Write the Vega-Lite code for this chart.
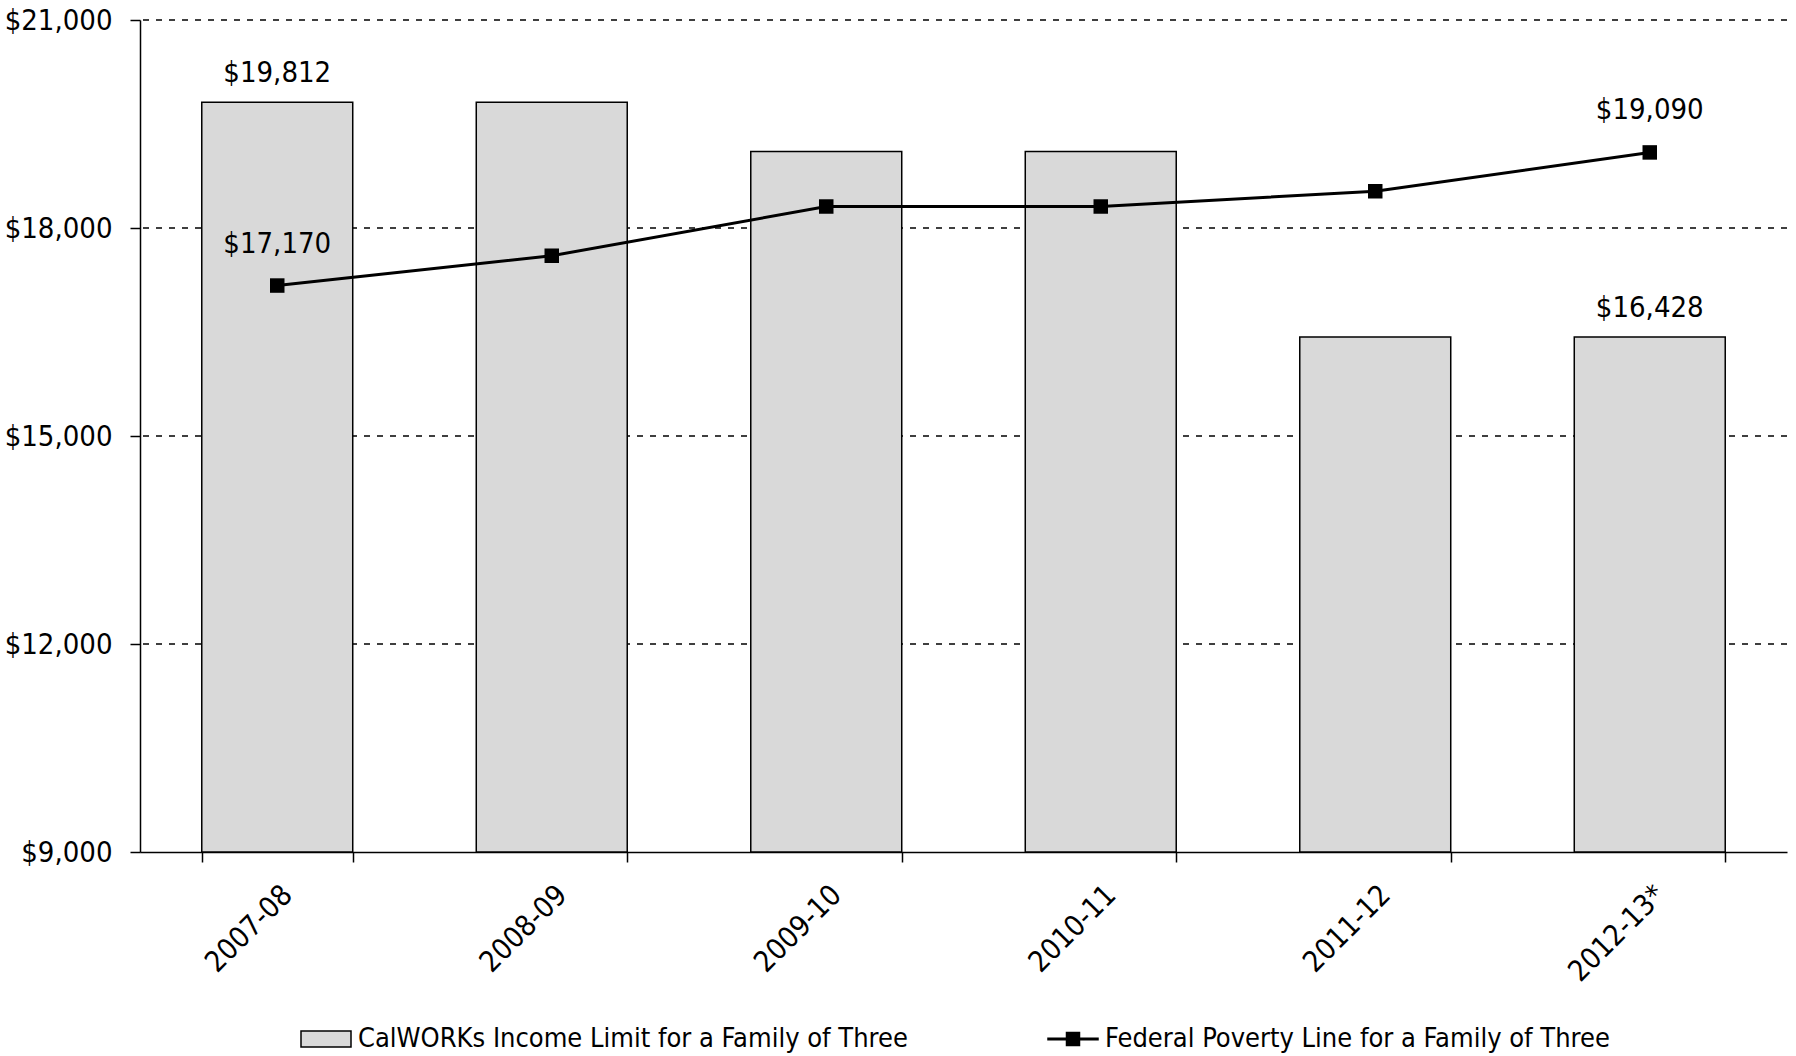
{
  "$schema": "https://vega.github.io/schema/vega-lite/v6.json",
  "autosize": "none",
  "width": 1647,
  "height": 832,
  "padding": {"left": 140, "top": 20, "right": 9, "bottom": 204},
  "background": "white",
  "config": {
    "font": "DejaVu Sans Condensed, Liberation Sans",
    "view": {"stroke": null},
    "axis": {"labelFont": "DejaVu Sans Condensed, Liberation Sans", "labelColor": "black", "domainColor": "black", "tickColor": "black", "zindex": 1}
  },
  "data": {
    "values": [
      {"year": "2007-08", "calworks": 19812, "fpl": 17170},
      {"year": "2008-09", "calworks": 19812, "fpl": 17600},
      {"year": "2009-10", "calworks": 19104, "fpl": 18310},
      {"year": "2010-11", "calworks": 19104, "fpl": 18310},
      {"year": "2011-12", "calworks": 16428, "fpl": 18530},
      {"year": "2012-13*", "calworks": 16428, "fpl": 19090}
    ]
  },
  "encoding": {
    "x": {
      "field": "year", "type": "nominal", "sort": null,
      "scale": {"paddingInner": 0.45, "paddingOuter": 0.225},
      "axis": {
        "title": null, "labelAngle": -45, "labelAlign": "right", "labelBaseline": "top",
        "labelFontSize": 29, "labelPadding": 18, "tickBand": "extent", "tickSize": 10,
        "tickWidth": 1.5, "domainWidth": 1.5, "grid": false
      }
    }
  },
  "layer": [
    {
      "mark": {"type": "rule", "strokeDash": [6, 7], "strokeWidth": 1.5, "color": "black"},
      "data": {"values": [{"g": 12000}, {"g": 15000}, {"g": 18000}, {"g": 21000}]},
      "encoding": {
        "x": null,
        "y": {"field": "g", "type": "quantitative"}
      }
    },
    {
      "mark": {"type": "bar", "stroke": "black", "strokeWidth": 1.5},
      "encoding": {
        "y": {
          "field": "calworks", "type": "quantitative",
          "scale": {"domain": [9000, 21000], "nice": false, "zero": false},
          "axis": {
            "title": null, "values": [9000, 12000, 15000, 18000, 21000], "format": "$,.0f",
            "labelFontSize": 29, "labelPadding": 18, "tickSize": 10, "tickWidth": 1.5,
            "domainWidth": 1.5, "grid": false
          }
        },
        "y2": {"datum": 9000},
        "fill": {
          "datum": "CalWORKs Income Limit for a Family of Three",
          "scale": {
            "domain": ["CalWORKs Income Limit for a Family of Three", "Federal Poverty Line for a Family of Three"],
            "range": ["#d9d9d9", "#000000"]
          },
          "legend": {
            "title": null, "orient": "none", "legendX": 160, "legendY": 993,
            "direction": "horizontal", "symbolSize": 2500, "labelFontSize": 27,
            "labelFont": "DejaVu Sans Condensed, Liberation Sans", "labelColor": "black",
            "labelOffset": 6, "columnPadding": 137, "labelLimit": 1000,
            "symbolStrokeColor": "black", "symbolStrokeWidth": 1.5,
            "encode": {
              "symbols": {
                "update": {
                  "shape": {"signal": "datum.value === 'CalWORKs Income Limit for a Family of Three' ? 'M-1,-0.32H1V0.32H-1Z' : 'M-1,-0.03H1V0.03H-1ZM-0.26,-0.26H0.26V0.26H-0.26Z'"},
                  "opacity": {"value": 1}
                }
              }
            }
          }
        }
      }
    },
    {
      "mark": {"type": "line", "color": "black", "strokeWidth": 3},
      "encoding": {"y": {"field": "fpl", "type": "quantitative"}}
    },
    {
      "mark": {"type": "point", "shape": "square", "size": 210, "filled": true, "opacity": 1},
      "encoding": {
        "y": {"field": "fpl", "type": "quantitative"},
        "fill": {"datum": "Federal Poverty Line for a Family of Three"}
      }
    },
    {
      "transform": [{"filter": "datum.year === '2007-08' || datum.year === '2012-13*'"}],
      "mark": {"type": "text", "fontSize": 29, "dy": -20, "baseline": "alphabetic", "color": "black"},
      "encoding": {
        "y": {"field": "calworks", "type": "quantitative"},
        "text": {"field": "calworks", "type": "quantitative", "format": "$,.0f"}
      }
    },
    {
      "transform": [{"filter": "datum.year === '2007-08' || datum.year === '2012-13*'"}],
      "mark": {"type": "text", "fontSize": 29, "dy": -33, "baseline": "alphabetic", "color": "black"},
      "encoding": {
        "y": {"field": "fpl", "type": "quantitative"},
        "text": {"field": "fpl", "type": "quantitative", "format": "$,.0f"}
      }
    }
  ]
}
